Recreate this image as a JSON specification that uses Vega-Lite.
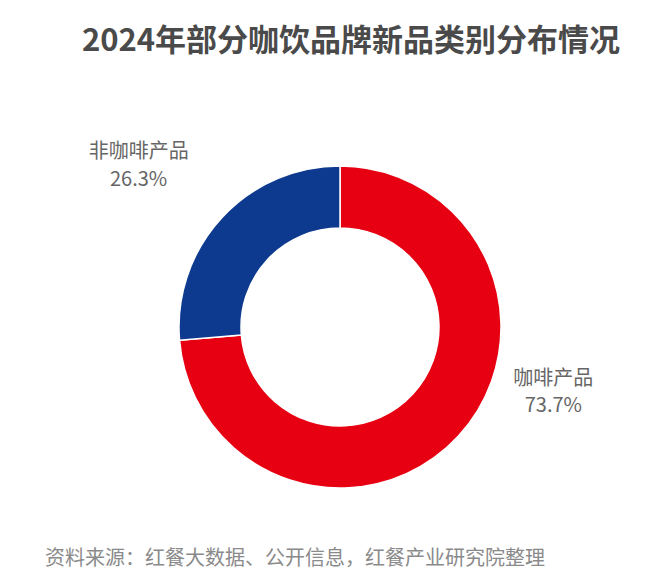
{
  "$schema": "https://vega.github.io/schema/vega-lite/v6.json",
  "width": 640,
  "height": 498,
  "autosize": "none",
  "padding": {"left": 20, "top": 78, "right": 0, "bottom": 0},
  "background": "white",
  "config": {"view": {"stroke": null}, "font": "Noto Sans CJK SC"},
  "title": {
    "text": "2024年部分咖饮品牌新品类别分布情况",
    "font": "Noto Sans CJK SC",
    "fontSize": 31,
    "fontWeight": "bold",
    "color": "#4a4a4a",
    "anchor": "middle",
    "frame": "group",
    "baseline": "middle",
    "offset": 5,
    "dx": 11
  },
  "datasets": {
    "share": [
      {"category": "咖啡产品", "value": 73.7},
      {"category": "非咖啡产品", "value": 26.3}
    ],
    "note": [
      {"text": "资料来源：红餐大数据、公开信息，红餐产业研究院整理"}
    ]
  },
  "data": {"name": "share"},
  "transform": [
    {"calculate": "datum.category + '\\n' + format(datum.value, '.1f') + '%'", "as": "label"}
  ],
  "encoding": {
    "theta": {"field": "value", "type": "quantitative", "stack": true},
    "order": {"field": "category", "sort": "ascending"}
  },
  "layer": [
    {
      "mark": {"type": "arc", "innerRadius": 99, "outerRadius": 161, "stroke": "white", "strokeWidth": 1.5},
      "encoding": {
        "color": {
          "field": "category",
          "type": "nominal",
          "scale": {"domain": ["咖啡产品", "非咖啡产品"], "range": ["#e60012", "#0d3a8e"]},
          "legend": null
        }
      }
    },
    {
      "transform": [{"calculate": "datum.category === '咖啡产品' ? datum.label : ''", "as": "shown"}],
      "mark": {"type": "text", "radius": 180, "dx": 81, "dy": -70, "lineBreak": "\n", "lineHeight": 27, "fontSize": 20, "color": "#666666", "align": "center", "baseline": "middle"},
      "encoding": {"text": {"field": "shown"}}
    },
    {
      "transform": [{"calculate": "datum.category === '非咖啡产品' ? datum.label : ''", "as": "shown"}],
      "mark": {"type": "text", "radius": 180, "dx": -69, "dy": -53, "lineBreak": "\n", "lineHeight": 28, "fontSize": 20, "color": "#666666", "align": "center", "baseline": "middle"},
      "encoding": {"text": {"field": "shown"}}
    },
    {
      "data": {"name": "note"},
      "transform": [],
      "mark": {"type": "text", "dx": -45, "dy": 232, "fontSize": 20, "color": "#8a8a8a", "align": "center", "baseline": "middle"},
      "encoding": {"text": {"field": "text"}, "theta": null, "order": null}
    }
  ]
}
